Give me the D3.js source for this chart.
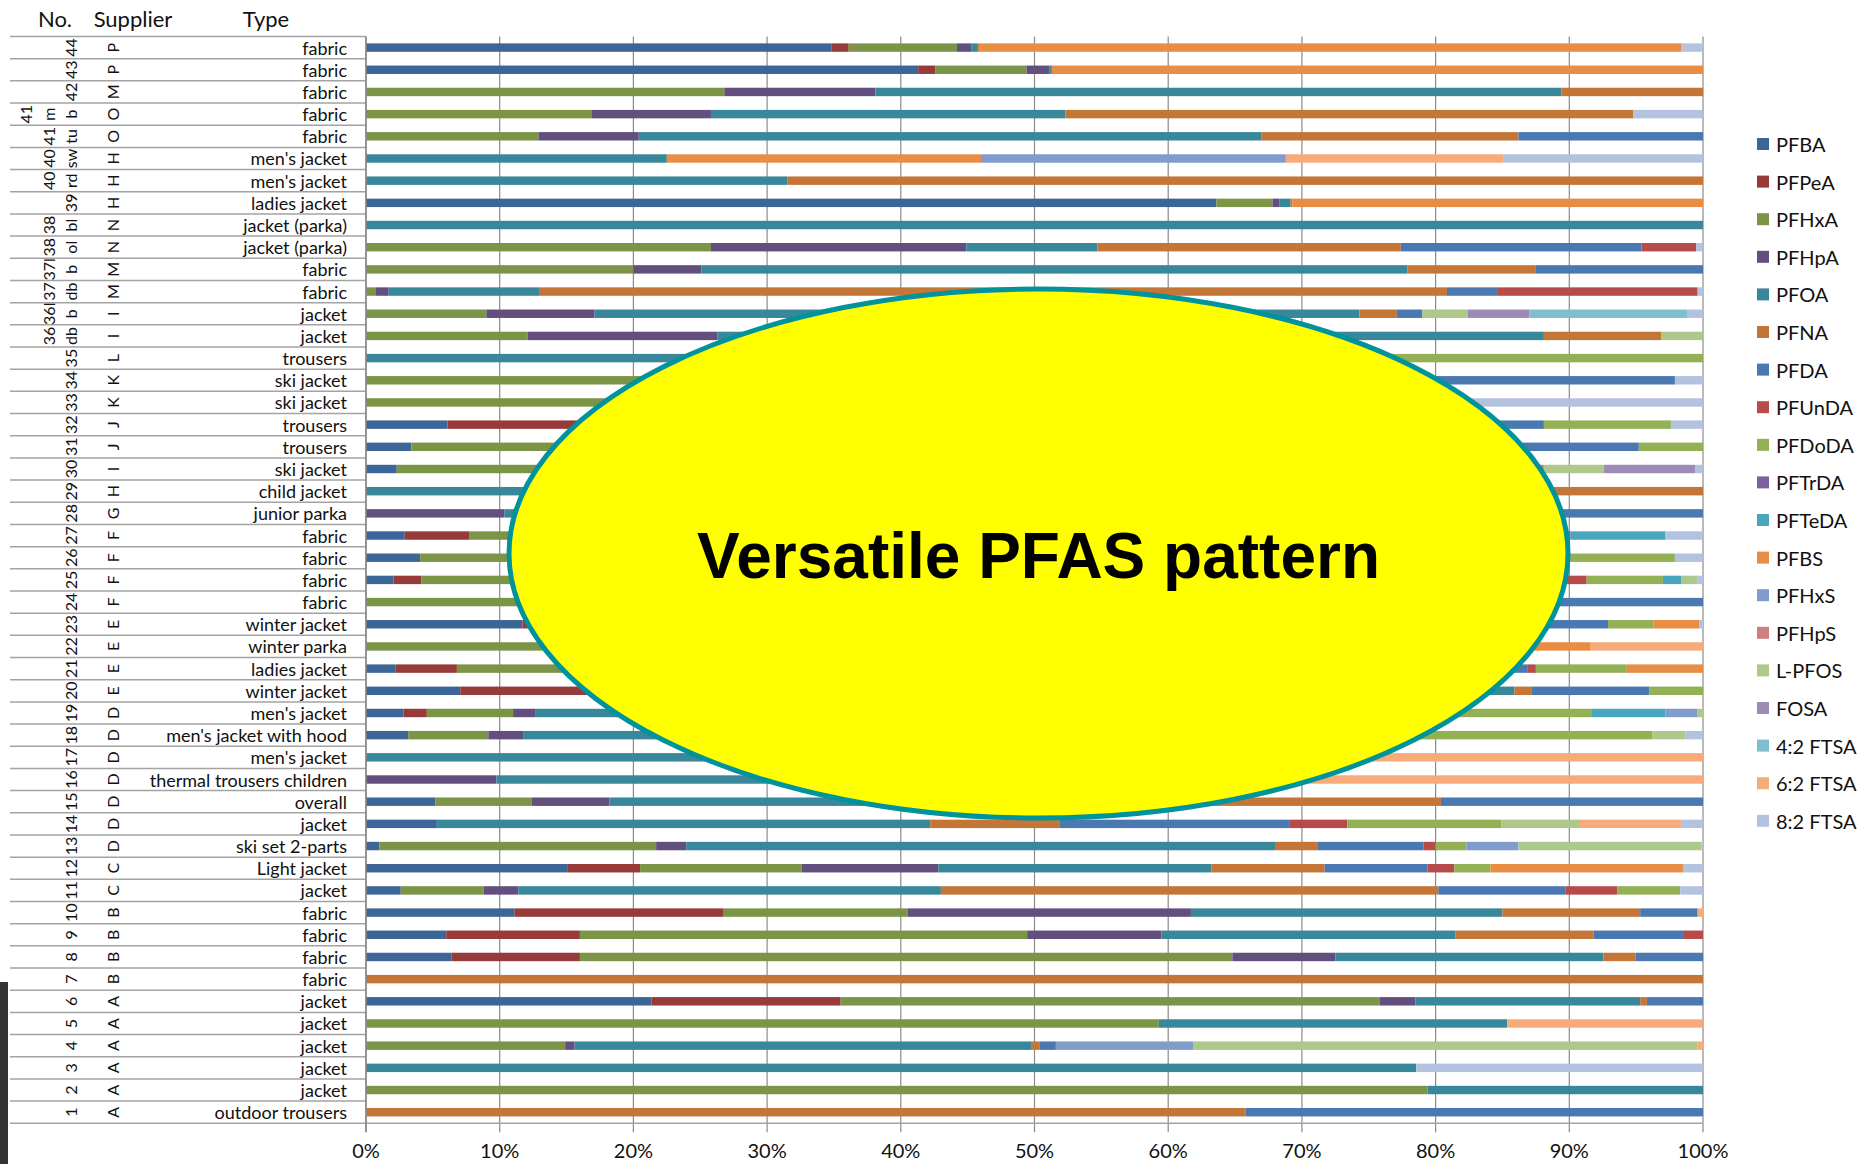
<!DOCTYPE html>
<html>
<head>
<meta charset="utf-8">
<script src="https://cdn.jsdelivr.net/npm/d3@7/dist/d3.min.js"></script>
<style>
  body { margin: 0; background: #fff; }
  svg { display: block; }
  text { font-family: Lato, "Open Sans", sans-serif; }
</style>
</head>
<body>
<svg id="chart" width="1865" height="1164"></svg>
<script>
// Compound names (stack order) and their colours
const compounds = ["PFBA","PFPeA","PFHxA","PFHpA","PFOA","PFNA","PFDA","PFUnDA","PFDoDA","PFTrDA",
                   "PFTeDA","PFBS","PFHxS","PFHpS","L-PFOS","FOSA","4:2 FTSA","6:2 FTSA","8:2 FTSA"];
const colors = ["#3d6698","#963b3a","#7b9445","#634f7e","#39879a","#c47636","#4a79b2","#b64b4a","#93b055","#7c60a0",
                "#48a6be","#e88d43","#7f9cca","#cc7f7e","#aec78a","#9c8bb7","#7fbdd0","#f7ab7a","#b3c2de"];

// Row labels, listed top to bottom
const labelLevel1 = ["","","","41","","","","","","","","","","","","","","","","","","","","","","","","","","","","","","","","","","","","","","","","","","","","",""];
const labelLevel2 = ["","","","m","41","40","40","","38","38","37l","37","36l","36","","","","","","","","","","","","","","","","","","","","","","","","","","","","","","","","","","",""];
const labelLevel3 = ["44","43","42","b","tu","sw","rd","39","bl","ol","b","db","b","db","35","34","33","32","31","30","29","28","27","26","25","24","23","22","21","20","19","18","17","16","15","14","13","12","11","10","9","8","7","6","5","4","3","2","1"];
const suppliers = ["P","P","M","O","O","H","H","H","N","N","M","M","I","I","L","K","K","J","J","I","H","G","F","F","F","F","E","E","E","E","D","D","D","D","D","D","D","C","C","B","B","B","B","A","A","A","A","A","A"];
const types = ["fabric","fabric","fabric","fabric","fabric","men's jacket","men's jacket","ladies jacket","jacket (parka)","jacket (parka)",
               "fabric","fabric","jacket","jacket","trousers","ski jacket","ski jacket","trousers","trousers","ski jacket",
               "child jacket","junior parka","fabric","fabric","fabric","fabric","winter jacket","winter parka","ladies jacket","winter jacket",
               "men's jacket","men's jacket with hood","men's jacket","thermal trousers children","overall","jacket","ski set 2-parts","Light jacket","jacket","fabric",
               "fabric","fabric","fabric","jacket","jacket","jacket","jacket","jacket","outdoor trousers"];

// Share of each compound per row (%), top to bottom
const PFBA   = [34.8,41.3,0,0,0,0,0,63.6,0,0,0,0,0,0,0,0,0,6.1,3.4,2.3,0,0,2.9,4.05,2.05,0,11.7,0,2.2,7.05,2.8,3.15,0,0,5.2,5.3,1.0,15.1,2.6,11.1,6.0,6.4,0,21.35,0,0,0,0,0];
const PFPeA  = [1.3,1.3,0,0,0,0,0,0,0,0,0,0,0,0,0,0,0,11.9,0,0,0,0,4.85,0,2.1,0,8.3,0,4.6,10.95,1.75,0,0,0,0,0,0,5.4,0,15.6,10.0,9.6,0,14.15,0,0,0,0,0];
const PFHxA  = [8.1,6.8,26.8,16.9,12.9,0,0,4.2,0,25.8,20.0,0.7,9.0,12.1,0,35,38,17,26.6,22.7,0,0,27.25,25.95,25.85,40,20,45,28.2,17,6.45,6.0,0,0,7.2,0,20.7,12.1,6.2,13.8,33.45,48.8,0,40.3,59.3,14.9,0,79.4,0];
const PFHpA  = [1.1,1.7,11.3,8.9,7.5,0,0,0.5,0,19.1,5.1,1.0,8.1,14.2,0,5,6,0,0,0,0,10.35,5,0,0,0,0,0,0,7,1.7,2.6,0,9.75,5.8,0,2.25,10.2,2.6,21.2,10.05,7.7,0,2.7,0,0.7,0,0,0];
const PFOA   = [0.4,0.2,51.3,26.5,46.6,22.5,31.5,0.85,100,9.8,52.8,11.3,57.2,61.8,55,22,18,35,35,35,45,44.65,25,25,30,25,25,25,27,43.9,47.3,48.25,70,55.25,36.8,36.9,44.1,20.45,31.6,23.3,22.0,20.05,0,16.8,26.05,34.2,78.55,20.6,0];
const PFNA   = [0.2,0,10.6,42.5,19.2,0,68.5,0.15,0,22.7,9.6,67.85,2.8,8.8,13,10,10,10,13,15,55,20,10,10,12,13,10,0,10,1.3,10,12,0,0,25.4,9.7,3.15,8.45,37.2,10.3,10.3,2.4,100,0.5,0,0.6,0,0,65.8];
const PFDA   = [0,0,0,0,13.8,0,0,0,0,18.0,12.5,3.75,1.9,0,0,25.9,0,8.1,17.2,12.8,0,25,13,15,17.9,22,17.9,0,14.9,8.8,10,6,0,0,19.6,17.2,7.9,7.7,9.5,4.3,6.7,5.05,0,4.2,0,1.2,0,0,34.2];
const PFUnDA = [0,0,0,0,0,0,0,0,0,4.1,0,15.0,0,0,0,0,0,0,0,0,0,0,1.9,0,1.4,0,0,0,0.6,0,0,0,0,0,0,4.3,0.9,2.0,3.9,0,1.5,0,0,0,0,0,0,0,0];
const PFDoDA = [0,0,0,0,0,0,0,0,0,0,0,0,0,0,32,0,0,9.5,4.8,0,0,0,0,17.9,5.7,0,3.4,0,6.8,4.0,11.7,18.2,0,0,0,11.5,2.3,2.7,4.7,0,0,0,0,0,0,0,0,0,0];
const PFTrDA = [0,0,0,0,0,0,0,0,0,0,0,0,0,0,0,0,0,0,0,0,0,0,0.2,0,0,0,0,0,0,0,0,0,0,0,0,0,0,0,0,0,0,0,0,0,0,0,0,0,0];
const PFTeDA = [0,0,0,0,0,0,0,0,0,0,0,0,0,0,0,0,0,0,0,0,0,0,7.1,0,1.4,0,0,0,0,0,5.5,0,0,0,0,0,0,0,0,0,0,0,0,0,0,0,0,0,0];
const PFBS   = [52.5,48.7,0,0,0,23.5,0,30.7,0,0,0,0,0,0,0,0,0,0,0,0,0,0,0,0,0,0,3.45,21.6,5.7,0,0,0,0,0,0,0,0,14.4,0,0,0,0,0,0,0,0,0,0,0];
const PFHxS  = [0,0,0,0,0,22.8,0,0,0,0,0,0,0,0,0,0,0,0,0,0,0,0,0,0,0,0,0,0,0,0,2.4,0,0,0,0,0,3.9,0,0,0,0,0,0,0,0,10.3,0,0,0];
const PFHpS  = [0,0,0,0,0,0,0,0,0,0,0,0,0,0,0,0,0,0,0,0.3,0,0,0,0,0,0,0,0,0,0,0,0,0,0,0,0,0,0,0,0,0,0,0,0,0,0,0,0,0];
const LPFOS  = [0,0,0,0,0,0,0,0,0,0,0,0,3.4,3.1,0,0,0,0,0,4.5,0,0,0,0,1.2,0,0,0,0,0,0.4,2.5,0,0,0,5.9,13.7,0,0,0,0,0,0,0,0,37.7,0,0,0];
const FOSA   = [0,0,0,0,0,0,0,0,0,0,0,0,4.6,0,0,0,0,0,0,6.8,0,0,0,0,0,0,0,0,0,0,0,0,0,0,0,0,0,0,0,0,0,0,0,0,0,0,0,0,0];
const FTSA42 = [0,0,0,0,0,0,0,0,0,0,0,0,11.8,0,0,0,0,0,0,0,0,0,0,0,0,0,0,0,0,0,0,0,0,0,0,0,0,0,0,0,0,0,0,0,0,0,0,0,0];
const FTSA62 = [0,0,0,0,0,16.3,0,0,0,0,0,0,0,0,0,0,0,0,0,0,0,0,0,0,0,0,0,8.4,0,0,0,0,30,35,0,7.6,0,0,0,0.4,0,0,0,0,14.65,0.4,0,0,0];
const FTSA82 = [1.6,0,0,5.2,0,14.9,0,0,0,0.5,0,0.4,1.2,0,0,2.1,28,2.4,0,0.6,0,0,2.8,2.1,0.4,0,0.25,0,0,0,0,1.3,0,0,0,1.6,0.1,1.5,1.7,0,0,0,0,0,0,0,21.45,0,0];

const xTicks = [0,10,20,30,40,50,60,70,80,90,100];

const seriesValues = [PFBA,PFPeA,PFHxA,PFHpA,PFOA,PFNA,PFDA,PFUnDA,PFDoDA,PFTrDA,PFTeDA,PFBS,PFHxS,PFHpS,LPFOS,FOSA,FTSA42,FTSA62,FTSA82];

const rows = labelLevel3.map((_, i) => {
  const r = { id: i };
  compounds.forEach((c, k) => { r[c] = seriesValues[k][i]; });
  return r;
});

const svg = d3.select("#chart");
const ink = "#111";

const x = d3.scaleLinear().domain([0, 100]).range([366, 1703]);
const y = d3.scaleBand().domain(rows.map(r => r.id)).range([36.5, 1123.3])
  .paddingInner(0.62).paddingOuter(0.31);
const color = d3.scaleOrdinal().domain(compounds).range(colors);

const plotTop = 36.5, plotBottom = 1123.3;
const step = y.step();

// dark strip at the lower left edge
svg.append("rect").attr("x", 0).attr("y", 982).attr("width", 8).attr("height", 182).attr("fill", "#333");

// vertical gridlines
svg.append("g").selectAll("line").data(xTicks).join("line")
  .attr("x1", d => x(d)).attr("x2", d => x(d))
  .attr("y1", plotTop).attr("y2", plotBottom + 9)
  .attr("stroke", "#8a8a8a").attr("stroke-width", 1.2);

// table row separators on the label side
const boundaries = d3.range(rows.length + 1).map(i => plotTop + i * step);
svg.append("g").selectAll("line").data(boundaries).join("line")
  .attr("x1", 10).attr("x2", (d, i) => i === boundaries.length - 1 ? 1703 : 366)
  .attr("y1", d => d).attr("y2", d => d)
  .attr("stroke", "#a3a3a3").attr("stroke-width", 1.5);

// stacked bars
const stacked = d3.stack().keys(compounds)(rows);
svg.append("g").selectAll("g").data(stacked).join("g")
  .attr("fill", s => color(s.key))
  .selectAll("rect").data(s => s.filter(d => d[1] - d[0] > 0)).join("rect")
  .attr("x", d => x(d[0]))
  .attr("width", d => x(d[1]) - x(d[0]))
  .attr("y", d => y(d.data.id))
  .attr("height", y.bandwidth());

// left axis line
svg.append("line").attr("x1", 366).attr("x2", 366).attr("y1", plotTop).attr("y2", plotBottom + 9)
  .attr("stroke", "#8a8a8a").attr("stroke-width", 1.5);

// x tick labels
svg.append("g").selectAll("text").data(xTicks).join("text")
  .attr("x", d => x(d)).attr("y", 1158)
  .attr("text-anchor", "middle").attr("font-size", 20).attr("fill", ink)
  .text(d => d + "%");

// header
const header = [["No.", 55], ["Supplier", 133], ["Type", 266]];
svg.append("g").selectAll("text").data(header).join("text")
  .attr("x", d => d[1]).attr("y", 27).attr("text-anchor", "middle").attr("font-size", 22).attr("fill", ink)
  .text(d => d[0]);

// rotated label columns
function rotatedColumn(labels, cx, size) {
  svg.append("g").selectAll("text").data(labels.map((t, i) => ({ t, i })).filter(d => d.t)).join("text")
    .attr("transform", d => `translate(${cx},${y(d.i) + y.bandwidth() / 2}) rotate(-90)`)
    .attr("text-anchor", "middle").attr("dominant-baseline", "central")
    .attr("font-size", size).attr("fill", ink).text(d => d.t);
}
rotatedColumn(labelLevel1, 25, 16);
rotatedColumn(labelLevel2, 48, 16);
rotatedColumn(labelLevel3, 70, 16);
rotatedColumn(suppliers, 112, 16);

// type labels
svg.append("g").selectAll("text").data(types).join("text")
  .attr("x", 347).attr("y", (d, i) => y(i) + y.bandwidth() / 2)
  .attr("text-anchor", "end").attr("dominant-baseline", "central").attr("font-size", 18).attr("fill", ink)
  .text(d => d);

// legend
const legend = svg.append("g").selectAll("g").data(compounds).join("g")
  .attr("transform", (d, i) => `translate(1757,${144 + i * 37.6})`);
legend.append("rect").attr("x", 0).attr("y", -6).attr("width", 12).attr("height", 12).attr("fill", d => color(d));
legend.append("text").attr("x", 19).attr("y", 0).attr("dominant-baseline", "central")
  .attr("font-size", 20).attr("fill", ink).text(d => d);

// highlight callout
svg.append("ellipse").attr("cx", 1038.5).attr("cy", 553.5).attr("rx", 529.5).attr("ry", 264.5)
  .attr("fill", "#ffff00").attr("stroke", "#00939b").attr("stroke-width", 5);
svg.append("text").attr("x", 1038.5).attr("y", 578).attr("text-anchor", "middle")
  .style("font-family", "'Liberation Sans', Arial, sans-serif").attr("font-weight", "bold")
  .attr("font-size", 64).attr("fill", "#000").text("Versatile PFAS pattern");
</script>
</body>
</html>
